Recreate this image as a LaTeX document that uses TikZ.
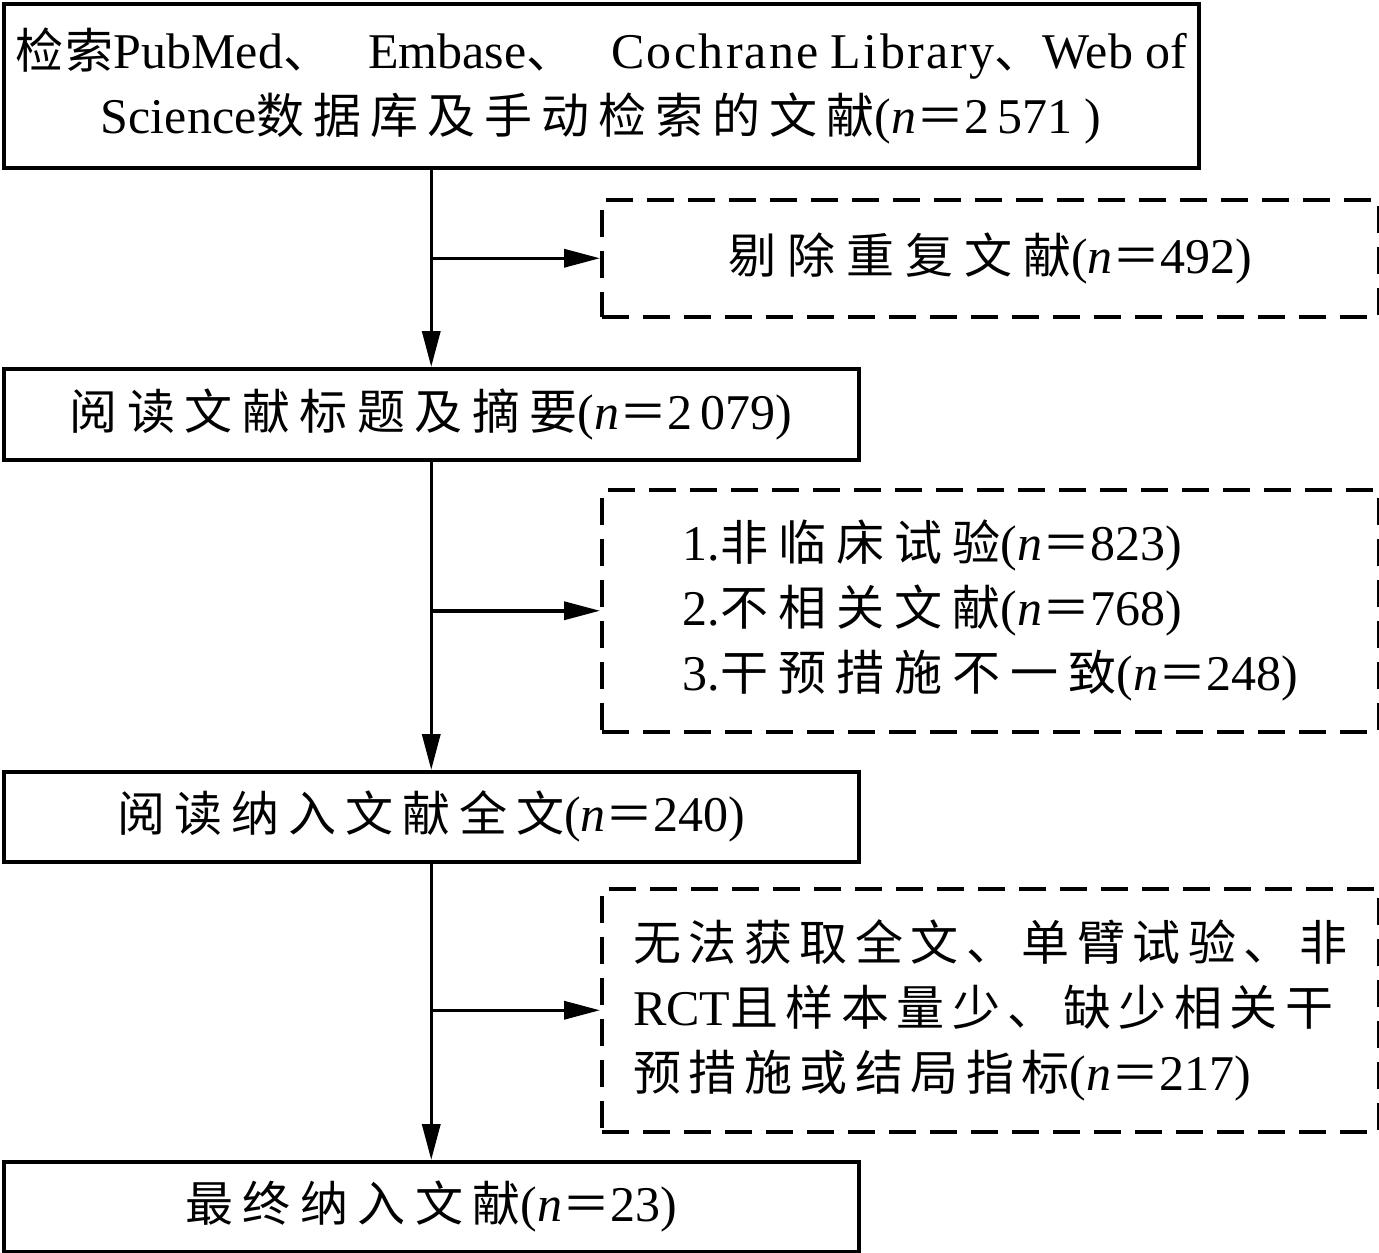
\documentclass[tikz,border=0pt]{standalone}
\usepackage{fontspec}
\setmainfont{Liberation Serif}
\newfontfamily\cjkf{Noto Sans CJK SC}
\usetikzlibrary{arrows.meta}
\makeatletter
\newcommand\zh[1]{{\fontsize{48}{65}\cjkf #1}}
\newcommand\zs[2]{\def\zs@sep{}\@tfor\zs@c:=#2\do{\zs@sep\zh{\zs@c}\def\zs@sep{\hspace{#1}}}}
\makeatother
\newcommand\nn{(\textit{n}\zh{＝}}
\tikzset{
  solidbox/.style={draw, line width=3.5pt, anchor=north west, inner sep=0pt},
  dashbox/.style={draw, line width=3.5pt, dash pattern=on 27pt off 14pt, anchor=north west, inner sep=0pt},
  txt/.style={font=\fontsize{50}{65}\selectfont, inner sep=0pt},
  arr/.style={line width=3.5pt, -{Triangle[length=36pt,width=18pt]}},
}
\begin{document}
\begin{tikzpicture}[x=1pt,y=-1pt]
\useasboundingbox (0,0) rectangle (1379,1253);
% boxes
\node[solidbox, minimum width=1195pt, minimum height=164pt] (b1) at (2,2) {};
\node[dashbox, minimum width=777pt, minimum height=117pt] (b2) at (600,198) {};
\node[solidbox, minimum width=855pt, minimum height=91pt] (b3) at (2,367) {};
\node[dashbox, minimum width=777pt, minimum height=242pt] (b4) at (600,488) {};
\node[solidbox, minimum width=855pt, minimum height=90pt] (b5) at (2,770) {};
\node[dashbox, minimum width=777pt, minimum height=243pt] (b6) at (600,887) {};
\node[solidbox, minimum width=855pt, minimum height=90pt] (b7) at (2,1160) {};
% texts
\node[txt, align=center] (t1) at (b1.center) {\makebox[1171pt][s]{\zs{2pt}{检索}PubMed\zh{、}\hspace{0pt plus 1fil}Embase\zh{、}\hspace{0pt plus 1fil}{\addfontfeature{LetterSpace=4.6}Cochrane\hspace{12pt}Library}\zh{、}Web\hspace{12pt}of}\\
Science\zs{9pt}{数据库及手动检索的文献}\nn2\,571 )};
\node[txt] (t2) at (b2.center) {\zs{11pt}{剔除重复文献}\nn492)};
\node[txt] (t3) at (b3.center) {\zs{9.5pt}{阅读文献标题及摘要}\nn2\,079)};
\node[txt, align=left] (t4) at (b4.center) {1.\zs{10pt}{非临床试验}\nn823)\\
2.\zs{10pt}{不相关文献}\nn768)\\
3.\zs{10pt}{干预措施不一致}\nn248)};
\node[txt] (t5) at (b5.center) {\zs{9pt}{阅读纳入文献全文}\nn240)};
\node[txt, align=left] (t6) at (b6.center) {\zs{7.5pt}{无法获取全文、单臂试验、非}\\
RCT\zs{7.5pt}{且样本量少、缺少相关干}\\
\zs{7.5pt}{预措施或结局指标}\nn217)};
\node[txt] (t7) at (b7.center) {\zs{9.5pt}{最终纳入文献}\nn23)};
% connectors
\draw[arr] (b3.north |- b1.south) -- (b3.north);
\draw[arr] (b3.north |- b2.west) -- (b2.west);
\draw[arr] (b5.north |- b3.south) -- (b5.north);
\draw[arr] (b5.north |- b4.west) -- (b4.west);
\draw[arr] (b7.north |- b5.south) -- (b7.north);
\draw[arr] (b7.north |- b6.west) -- (b6.west);
\end{tikzpicture}
\end{document}
